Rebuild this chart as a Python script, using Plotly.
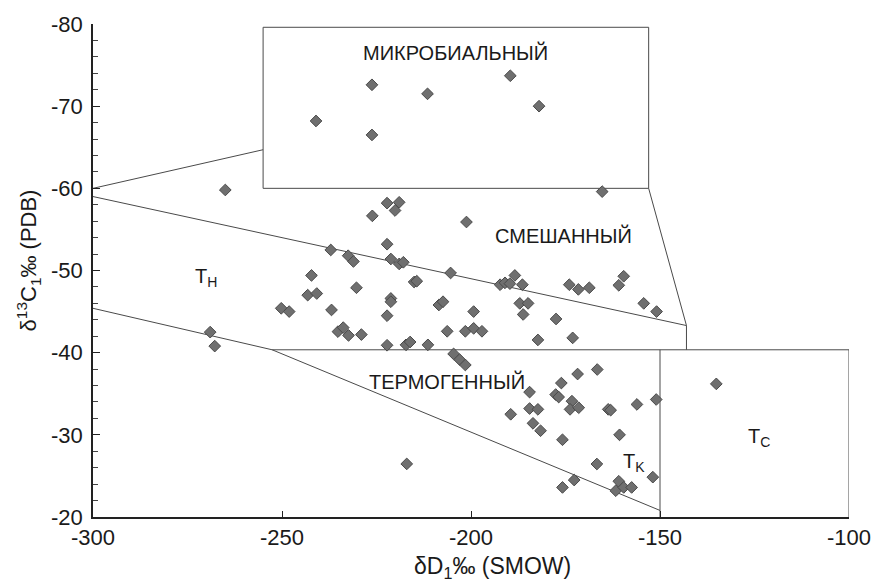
import plotly.graph_objects as go

# ---- data (δD, δ13C) ----
dD = [
    -241, -226.2, -226.2, -211.5, -189.6, -182,
    -265, -165.3,
    -222.2, -219, -220.1, -226.1, -201.2, -222.2, -237.1, -232.5, -231.1, -221.2,
    -219, -217.9, -205.4, -242.2, -215.05, -214.35, -230.3, -243.2, -240.8, -221.2,
    -221.2, -208.5, -207.4, -250.2, -248.1, -236.9, -222.2, -206.3, -201.5, -199.3,
    -197.1, -199.3, -235.2, -233.8, -232.4, -229.0, -222.2, -217.2, -216.1, -211.4,
    -192.3, -191, -189.7, -188.4, -186.4, -174, -171.6, -168.7, -159.6, -160.9,
    -154.3, -150.9, -187.1, -184.9, -186.2, -177.5, -182.3, -173.1,
    -269, -267.8,
    -204.6, -203, -201.5,
    -171.8, -166.6, -176.1, -184.5, -177.6, -176.8, -173.3, -173.8, -171.5, -184.5,
    -182.3, -189.5, -183.6, -181.6, -175.8, -163.7, -163.05, -156.1, -151, -160.7,
    -166.7, -172.7, -175.8, -160.9, -161.7, -159.6, -157.5, -151.9, -217, -135.1,
]
d13C = [
    -68.2, -72.6, -66.5, -71.5, -73.7, -70,
    -59.8, -59.6,
    -58.2, -58.3, -57.3, -56.65, -55.9, -53.2, -52.5, -51.8, -51.1, -51.4,
    -50.8, -51.0, -49.7, -49.4, -48.6, -48.7, -47.9, -47.0, -47.2, -46.6,
    -46.2, -45.8, -46.2, -45.4, -45.0, -45.2, -44.5, -42.6, -42.6, -42.96,
    -42.6, -45.0, -42.56, -43.05, -42.1, -42.2, -40.9, -40.95, -41.3, -40.95,
    -48.27, -48.5, -48.4, -49.4, -48.27, -48.27, -47.7, -47.9, -49.3, -48.2,
    -46.0, -45.0, -46.0, -46.0, -44.65, -44.1, -41.55, -41.8,
    -42.5, -40.8,
    -39.85, -39.15, -38.5,
    -37.4, -37.95, -36.3, -35.2, -34.9, -34.6, -34.1, -33.1, -33.3, -33.2,
    -33.1, -32.5, -31.4, -30.5, -29.4, -33.1, -33.0, -33.7, -34.3, -30.0,
    -26.45, -24.5, -23.6, -24.35, -23.2, -23.6, -23.6, -24.85, -26.46, -36.2,
]

# ---- field boundaries (δD, δ13C polylines) ----
boundaries = [
    ([-255, -153, -153, -255, -255], [-60, -60, -79.6, -79.6, -60]),   # microbial box
    ([-300, -255], [-60, -64.7]),
    ([-300, -143], [-59, -43.3]),
    ([-153, -143, -143], [-60, -43.3, -40.35]),
    ([-252.6, -100], [-40.35, -40.35]),
    ([-300, -252.6, -150], [-45.4, -40.35, -20.8]),
    ([-150, -150], [-20, -40.35]),
    ([-100, -100], [-40.35, -20]),
]

# ---- field labels ----
label_text = ["МИКРОБИАЛЬНЫЙ", "СМЕШАННЫЙ", "ТЕРМОГЕННЫЙ",
              "T<sub>H</sub>", "T<sub>K</sub>", "T<sub>C</sub>"]
label_x = [-204, -175.5, -206.3, -270, -156.8, -123.8]
label_y = [-76.5, -54.2, -36.5, -49.2, -26.6, -29.7]

x_ticks = [-300, -250, -200, -150, -100]
x_ticktext = ["-300", "-250", "-200", "-150", "-100"]
y_ticks = [-80, -70, -60, -50, -40, -30, -20]
y_ticktext = ["-80", "-70", "-60", "-50", "-40", "-30", "-20"]

FONT = "Liberation Sans, Arial"

fig = go.Figure()
for bx, by in boundaries:
    fig.add_trace(go.Scatter(x=bx, y=by, mode="lines",
                             line=dict(color="#4a4a4a", width=1),
                             hoverinfo="skip", showlegend=False))

fig.add_trace(go.Scatter(
    x=dD, y=d13C, mode="markers", showlegend=False,
    marker=dict(symbol="diamond", size=9, color="#6f6f6f",
                line=dict(color="#4a4a4a", width=1)),
))

for t, lx, ly in zip(label_text, label_x, label_y):
    fig.add_annotation(x=lx, y=ly, text=t, showarrow=False,
                       font=dict(family=FONT, size=20, color="#1a1a1a"))

fig.add_annotation(xref="paper", yref="paper", x=0.528, y=-0.102, yanchor="middle",
                   text="δD<sub>1</sub>‰ (SMOW)", showarrow=False,
                   font=dict(family=FONT, size=23, color="#1a1a1a"))
fig.add_annotation(xref="paper", yref="paper", x=-0.085, y=0.52, textangle=-90,
                   xanchor="center", yanchor="middle",
                   text="δ<sup>13</sup>C<sub>1</sub>‰ (PDB)", showarrow=False,
                   font=dict(family=FONT, size=22, color="#1a1a1a"))

fig.update_layout(
    width=883, height=584,
    margin=dict(l=93, r=24, t=20, b=67),
    plot_bgcolor="white", paper_bgcolor="white",
    font=dict(family=FONT, size=22, color="#1a1a1a"),
)
fig.update_xaxes(range=[-300, -100], tickvals=x_ticks, ticktext=x_ticktext,
                 ticks="inside", ticklen=6,
                 tickcolor="#222", showgrid=False, zeroline=False, showline=True,
                 linecolor="#222", linewidth=1.5, tickfont=dict(size=22))
fig.update_yaxes(range=[-20, -80], tickvals=y_ticks, ticktext=y_ticktext,
                 ticks="inside", ticklen=7, ticklabelstandoff=4,
                 tickcolor="#222", showgrid=False, zeroline=False, showline=True,
                 linecolor="#222", linewidth=1.5, tickfont=dict(size=22),
                 minor=dict(dtick=2, ticks="inside", ticklen=5, tickcolor="#444"))

fig.write_html("out.html")
